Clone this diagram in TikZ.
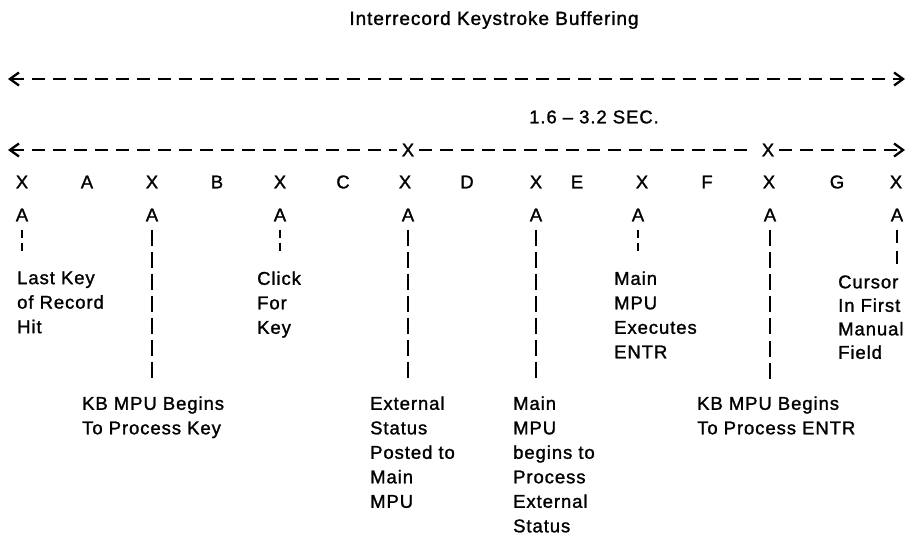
\documentclass[tikz,border=0pt]{standalone}
\usepackage{fontspec}
\setmainfont[LetterSpace=5,FakeBold=1.3]{Liberation Sans}
\usetikzlibrary{arrows.meta}
\begin{document}
\begin{tikzpicture}[x=1pt,y=-1pt,
  >={Straight Barb[length=9pt,width=13pt]},
  lbl/.style={font=\fontsize{18.5}{24.5}\selectfont, inner sep=0pt},
  txt/.style={lbl, anchor=north west, align=left},
  hline/.style={line width=2.3pt, dash pattern=on 13pt off 8pt},
  vlong/.style={line width=2.3pt, dash pattern=on 16pt off 6pt, shorten <=8pt},
  vshort/.style={line width=2.3pt, dash pattern=on 8pt off 5pt, shorten <=8pt}]
\useasboundingbox (0,0) rectangle (908,543);
\fill[white] (0,0) rectangle (908,543);

\node[lbl,font=\fontsize{19}{24.5}\selectfont] (title) at (494,20) {Interrecord Keystroke Buffering};

% overall span arrow
\coordinate (t1l) at (8,79);
\coordinate (t1r) at (905,79);
\draw[hline,<->] (t1l) -- (t1r);

\node[lbl] (sec) at (594,117) {1.6 – 3.2 SEC.};

% 1.6-3.2 sec arrow with two marks
\coordinate (t2l) at (8,150);
\coordinate (t2r) at (905,150);
\node[lbl,inner sep=5pt] (m1) at (408,150) {X};
\node[lbl,inner sep=5pt] (m2) at (768,150) {X};
\draw[hline,<-] (t2l) -- (m1);
\draw[hline,shorten >=3pt] (m1) -- (m2);
\draw[hline,->] (m2) -- (t2r);

% X row
\foreach \n/\x in {1/22,2/152,3/280,4/405,5/536,6/642,7/769,8/896}
  \node[lbl] (x\n) at (\x,182) {X};
\foreach \n/\l/\x in {1/A/87,2/B/217,3/C/343,4/D/467,5/E/577,6/F/707,7/G/837}
  \node[lbl] (g\n) at (\x,182) {\l};

% A row
\foreach \n/\x in {1/22,2/152,3/280,4/408,5/536,6/638,7/770,8/897}
  \node[lbl] (a\n) at (\x,215) {A};

% line ends
\coordinate (e1) at (22,252);
\coordinate (e2) at (152,383);
\coordinate (e3) at (280,252);
\coordinate (e4) at (408,383);
\coordinate (e5) at (536,383);
\coordinate (e6) at (638,252);
\coordinate (e7) at (770,384);
\coordinate (e8) at (897,267);

\draw[vshort] (a1) -- (e1);
\draw[vlong]  (a2) -- (e2);
\draw[vshort] (a3) -- (e3);
\draw[vlong]  (a4) -- (e4);
\draw[vlong]  (a5) -- (e5);
\draw[vshort] (a6) -- (e6);
\draw[vlong,dash pattern=on 16pt off 6.2pt] (a7) -- (e7);
\draw[vlong,dash pattern=on 13pt off 8pt] (a8) -- (e8);

% descriptions
\node[txt] (d1) at (17,271.2) {Last Key\\of Record\\Hit};
\node[txt] (d3) at (257,271.2) {Click\\For\\Key};
\node[txt] (d6) at (614,271.2) {Main\\MPU\\Executes\\ENTR};
\node[txt,font=\fontsize{18.5}{23.5}\selectfont] (d8) at (838,275.2) {Cursor\\In First\\Manual\\Field};
\node[txt] (d2) at (82,396.2) {KB MPU Begins\\To Process Key};
\node[txt] (d4) at (370,396.2) {External\\Status\\Posted to\\Main\\MPU};
\node[txt] (d5) at (513,396.2) {Main\\MPU\\begins to\\Process\\External\\Status};
\node[txt] (d7) at (697,396.2) {KB MPU Begins\\To Process ENTR};
\end{tikzpicture}
\end{document}
